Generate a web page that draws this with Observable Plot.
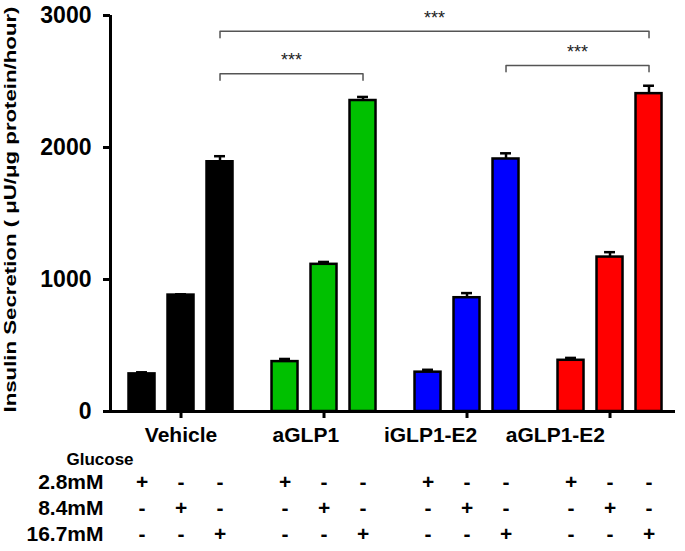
<!DOCTYPE html>
<html>
<head>
<meta charset="utf-8">
<script src="https://cdn.jsdelivr.net/npm/d3@7"></script>
<script src="https://cdn.jsdelivr.net/npm/@observablehq/plot@0.6"></script>
<style>
  html, body { margin: 0; padding: 0; background: #fff; }
  #chart svg { display: block; }
</style>
</head>
<body>
<div id="chart"></div>
<script>
// ---- data ----
const groups = ["Vehicle", "aGLP1", "iGLP1-E2", "aGLP1-E2"];
const glucose = ["2.8mM", "8.4mM", "16.7mM"];
const vehicle = [285, 882, 1892];
const vehicleErr = [12, 6, 42];
const aGLP1 = [378, 1115, 2356];
const aGLP1Err = [20, 18, 27];
const iGLP1E2 = [298, 862, 1913];
const iGLP1E2Err = [18, 35, 43];
const aGLP1E2 = [388, 1170, 2408];
const aGLP1E2Err = [18, 37, 60];
const colors = ["#000000", "#00c000", "#0000ff", "#ff0000"];
const yTicks = [0, 1000, 2000, 3000];
const yLabel = "Insulin Secretion ( \u03bcU/\u03bcg protein/hour)";
// significance brackets: [group index, glucose index] endpoints, level (data units)
const brackets = [
  {from: [0, 2], to: [3, 2], level: 2880, text: "***"},
  {from: [0, 2], to: [1, 2], level: 2558, text: "***"},
  {from: [2, 2], to: [3, 2], level: 2621, text: "***"}
];

// ---- layout helpers ----
const groupStep = 11 / 3;           // group spacing in bar-pitch units
const pos = (gi, bi) => gi * groupStep + bi;
const xDomain = [-0.808, 13.679];
const font = "Liberation Sans, Arial, Helvetica, sans-serif";

const values = [vehicle, aGLP1, iGLP1E2, aGLP1E2];
const errs = [vehicleErr, aGLP1Err, iGLP1E2Err, aGLP1E2Err];
const rows = [];
groups.forEach((g, gi) => glucose.forEach((k, bi) => rows.push({
  group: g, glucose: k, gi, bi, pos: pos(gi, bi),
  value: values[gi][bi], err: errs[gi][bi], color: colors[gi]
})));

const legDrop = 48;
const bracketPts = [];
brackets.forEach((b, id) => {
  const x1 = pos(...b.from), x2 = pos(...b.to);
  bracketPts.push({id, x: x1, y: b.level - legDrop}, {id, x: x1, y: b.level},
                  {id, x: x2, y: b.level}, {id, x: x2, y: b.level - legDrop});
});

const tableMarks = [];
glucose.forEach((k, r) => {
  const dy = 77 + 26 * r;
  tableMarks.push(Plot.text(rows, {x: "pos", text: d => d.bi === r ? "+" : "-",
    frameAnchor: "bottom", dy, fontSize: 21, fontWeight: "bold", fill: "black"}));
  tableMarks.push(Plot.text([k], {text: d => d, frameAnchor: "bottom-left", dx: -7, dy,
    textAnchor: "end", fontSize: 21, fontWeight: "bold", fill: "black"}));
});

const plot = Plot.plot({
  width: 685,
  height: 551,
  marginLeft: 110,
  marginRight: 10,
  marginTop: 15,
  marginBottom: 140,
  style: {fontFamily: font, background: "white", color: "black", overflow: "visible"},
  x: {type: "linear", domain: xDomain},
  y: {domain: [0, 3000]},
  marks: [
    Plot.rectY(rows, {x1: d => d.pos - 1 / 3, x2: d => d.pos + 1 / 3, y1: 0, y2: "value",
      fill: "color", stroke: "black", strokeWidth: 2.5}),
    Plot.ruleX(rows, {x: "pos", y1: "value", y2: d => d.value + d.err, strokeWidth: 2.5, stroke: "black"}),
    Plot.ruleY(rows, {y: d => d.value + d.err, x1: d => d.pos - 0.14, x2: d => d.pos + 0.14,
      strokeWidth: 2.5, stroke: "black"}),
    Plot.ruleX([xDomain[0]], {y1: 0, y2: 3000, strokeWidth: 3, stroke: "black"}),
    Plot.ruleY([0], {strokeWidth: 3, stroke: "black", insetLeft: -7}),
    Plot.axisY({ticks: yTicks, tickSize: 7, strokeWidth: 3, tickPadding: 12,
      fontSize: 23, fontWeight: "bold", label: null, tickFormat: d => String(d)}),
    Plot.axisX({ticks: groups.map((g, gi) => pos(gi, 1)), tickSize: 7, strokeWidth: 3,
      tickFormat: () => "", label: null}),
    Plot.text(groups, {x: (d, i) => 1 + i * 3.2, text: d => d, frameAnchor: "bottom", dy: 30,
      fontSize: 21, fontWeight: "bold", fill: "black"}),
    Plot.text([yLabel], {text: d => d, frameAnchor: "bottom-left", rotate: -90, dx: -95, dy: 1,
      textAnchor: "start", fontSize: 17, fontWeight: "bold", fill: "black"}),
    Plot.text(["Glucose"], {text: d => d, frameAnchor: "bottom-left", dx: -44, dy: 53,
      fontSize: 17, fontWeight: "bold", fill: "black"}),
    ...tableMarks,
    Plot.line(bracketPts, {x: "x", y: "y", z: "id", stroke: "#555", strokeWidth: 1.5}),
    Plot.text(brackets, {x: b => (pos(...b.from) + pos(...b.to)) / 2, y: b => b.level + 100,
      text: "text", fontSize: 18, fill: "#222"})
  ]
});
document.getElementById("chart").appendChild(plot);

// stretch the y-axis title along its length like the original
d3.select(plot).selectAll("text").filter(function () { return this.textContent === yLabel; })
  .attr("textLength", 406).attr("lengthAdjust", "spacingAndGlyphs");
</script>
</body>
</html>
